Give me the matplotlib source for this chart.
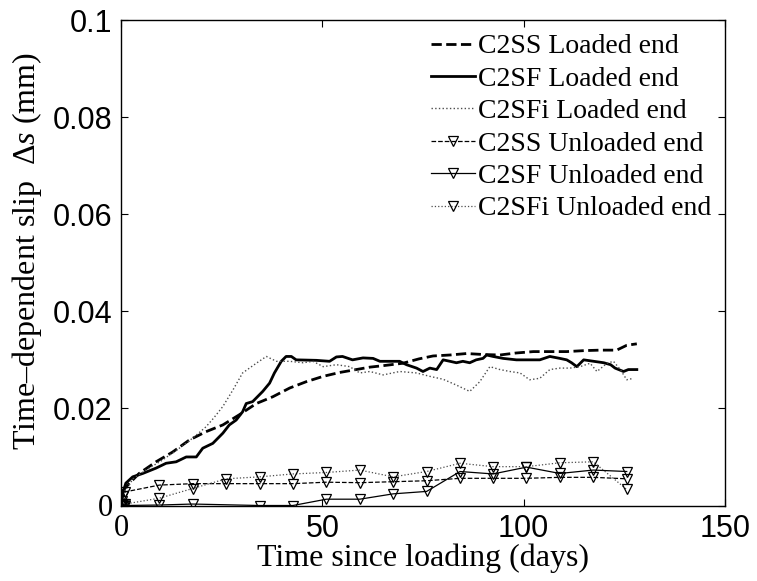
import numpy as np
import matplotlib
matplotlib.use("Agg")
import matplotlib.pyplot as plt

plt.rcParams["mathtext.fontset"] = "custom"
plt.rcParams["mathtext.rm"] = "Liberation Serif"
plt.rcParams["mathtext.it"] = "Liberation Serif:italic"

# ---- loaded-end slip (mm) ----
ss_loaded_days = [0, 0.4, 2, 4.5, 8.7, 12.8, 17, 21.1, 25.3, 29.4, 33.6, 37.7, 41.9, 46,
                  50.2, 54.3, 58.4, 61.8, 65.1, 70, 74, 77.5, 81.7, 85.8, 90, 94.1, 98,
                  102.4, 106, 110.7, 115, 119, 123.1, 125.6, 128.1]
ss_loaded_vals = [0, 0.003, 0.0045, 0.0066, 0.009, 0.011, 0.0135, 0.0152, 0.0166, 0.0187,
                  0.021, 0.0224, 0.0242, 0.0255, 0.0266, 0.0274, 0.028, 0.0285, 0.0288,
                  0.0293, 0.0302, 0.0308, 0.031, 0.0313, 0.0311, 0.031, 0.0314, 0.0317,
                  0.0317, 0.0317, 0.0319, 0.032, 0.032, 0.033, 0.0333]

sf_loaded_days = [0, 0.4, 1.2, 2.9, 5.4, 8.7, 11.2, 13.7, 16.2, 18.7, 20.3, 22.8, 25.3,
                  26.9, 28.6, 30.2, 31.1, 32.7, 35.2, 36.9, 38.1, 39.8, 41.0, 42.3, 43.5,
                  48.5, 51.8, 53.5, 55, 57.5, 60.1, 62.6, 64.3, 69.2, 70.9, 73.4, 75.0,
                  76.7, 78.4, 80.0, 81.7, 83.3, 84.9, 86.6, 88.2, 89.9, 90.8, 92.4, 94.9,
                  98.2, 104, 106.5, 109, 110.7, 111.9, 113.2, 114.9, 117.4, 119.9, 121.6,
                  122.7, 124.8, 126, 128.1]
sf_loaded_vals = [0, 0.0025, 0.0046, 0.0059, 0.0066, 0.0077, 0.0087, 0.009, 0.010, 0.010,
                  0.0118, 0.0128, 0.0149, 0.0166, 0.0176, 0.0193, 0.021, 0.0214, 0.0235,
                  0.0252, 0.0273, 0.0297, 0.0307, 0.0307, 0.0300, 0.0299, 0.0297, 0.0306,
                  0.0307, 0.0300, 0.0304, 0.0303, 0.0297, 0.0297, 0.029, 0.0283, 0.0276,
                  0.0283, 0.028, 0.030, 0.0297, 0.0294, 0.0297, 0.0294, 0.030, 0.0303,
                  0.031, 0.0307, 0.0303, 0.030, 0.030, 0.0307, 0.0303, 0.030, 0.0294,
                  0.0286, 0.030, 0.0297, 0.0294, 0.029, 0.0283, 0.0276, 0.028, 0.028]

sfi_loaded_days = [0, 1, 3, 6, 10, 14, 18, 21.1, 23, 25.3, 27.8, 30.2, 33.6, 36.1, 38.6,
                   41.9, 45.2, 47.7, 50.2, 53.5, 56.8, 59.3, 61.8, 65.1, 69.2, 73.4, 76.7,
                   80, 83.3, 86.6, 89.1, 91.6, 94.1, 96.6, 99.1, 101.5, 104, 106.5, 109,
                   111.5, 114, 116.5, 118.2, 120.7, 122.3, 124, 125.6, 127.3]
sfi_loaded_vals = [0, 0.003, 0.0055, 0.0072, 0.0092, 0.0115, 0.014, 0.0162, 0.018, 0.0204,
                   0.0238, 0.0273, 0.0293, 0.0307, 0.0297, 0.0297, 0.0294, 0.0297, 0.0286,
                   0.029, 0.0286, 0.0273, 0.0276, 0.0269, 0.0276, 0.0273, 0.0266, 0.026,
                   0.0248, 0.0235, 0.0255, 0.0286, 0.028, 0.0276, 0.0273, 0.0259, 0.0262,
                   0.028, 0.0283, 0.0283, 0.0286, 0.0293, 0.0276, 0.0293, 0.0297, 0.028,
                   0.0259, 0.0262]

# ---- unloaded-end slip (mm) ----
unl_days = [0, 0.3, 0.6, 1, 9.5, 17.8, 26.1, 34.4, 42.7, 51.0, 59.3, 67.6, 75.9, 84.2,
            92.4, 100.7, 109.0, 117.3, 125.6]
ss_unl_vals = [0, 0.001, 0.002, 0.0028, 0.0042, 0.0045, 0.0045, 0.0045, 0.0045, 0.0048,
               0.0047, 0.0049, 0.0051, 0.0056, 0.0056, 0.0056, 0.0058, 0.0058, 0.0055]
sfi_unl_vals = [0, 0.0002, 0.0003, 0.0003, 0.0015, 0.0035, 0.0055, 0.0059, 0.0065, 0.0068,
                0.0073, 0.0059, 0.0070, 0.0087, 0.0080, 0.0080, 0.0088, 0.0090, 0.0033]
sf_unl_days = [0, 0.3, 0.6, 1, 9.5, 17.8, 34.4, 42.7, 51.0, 59.3, 67.6, 75.9, 84.2, 92.4,
               100.7, 109.0, 117.3, 125.6]
sf_unl_vals = [0, 0, 0, 0, 0.0001, 0.0003, 0, 0, 0.0013, 0.0013, 0.0024, 0.0029, 0.0070,
               0.0065, 0.0079, 0.0066, 0.0073, 0.0070]

x_ticks = [0, 50, 100, 150]
y_ticks = [0, 0.02, 0.04, 0.06, 0.08, 0.1]
x_ticklabels = ["0", "50", "100", "150"]
y_ticklabels = ["0", "0.02", "0.04", "0.06", "0.08", "0.1"]

fig = plt.figure(figsize=(7.57, 5.81), dpi=100)
W, H = 757, 581
ax = fig.add_axes([121 / W, 1 - 505.5 / H, (725 - 121) / W, (505.5 - 20) / H])

ax.plot(ss_loaded_days, ss_loaded_vals, "k--", lw=2.0, label="C2SS Loaded end")
ax.plot(sf_loaded_days, sf_loaded_vals, "k-", lw=2.0, label="C2SF Loaded end")
ax.plot(sfi_loaded_days, sfi_loaded_vals, ls=":", color="0.3", lw=1.0,
        label="C2SFi Loaded end")
mk = dict(marker="v", markersize=7, markerfacecolor="none", markeredgecolor="k",
          markeredgewidth=0.9)
ax.plot(unl_days, ss_unl_vals, ls="--", color="k", lw=0.9, label="C2SS Unloaded end", **mk)
ax.plot(sf_unl_days, sf_unl_vals, ls="-", color="k", lw=0.9, label="C2SF Unloaded end", **mk)
ax.plot(unl_days, sfi_unl_vals, ls=":", color="0.3", lw=0.9, label="C2SFi Unloaded end", **mk)

ax.set_xlim(0, 150)
ax.set_ylim(0, 0.1)
ax.set_xticks(x_ticks)
ax.set_yticks(y_ticks)
ax.set_xticklabels(x_ticklabels)
ax.set_yticklabels(y_ticklabels)
ax.tick_params(direction="in", top=True, right=True, length=5, width=0.8,
               labelsize=22, pad=6)
for lab in ax.get_xticklabels() + ax.get_yticklabels():
    if lab.get_text() == "0":
        lab.set_family("Liberation Serif")
    else:
        lab.set_family("Liberation Sans")
for sp in ax.spines.values():
    sp.set_linewidth(1.0)

ax.set_xlabel("Time since loading (days)", family="Liberation Serif", fontsize=23,
              labelpad=0)
ax.set_ylabel("Time–dependent slip  Δ$s$ (mm)", family="Liberation Serif", fontsize=23)
ax.yaxis.set_label_coords(-0.127, 0.525)

leg = ax.legend(loc="upper right", frameon=False, prop={"family": "Liberation Serif",
                "size": 20}, handlelength=1.6, handletextpad=0.1, labelspacing=0.25,
                borderaxespad=0.25, borderpad=0.25)

fig.savefig("out.png", dpi=100)
